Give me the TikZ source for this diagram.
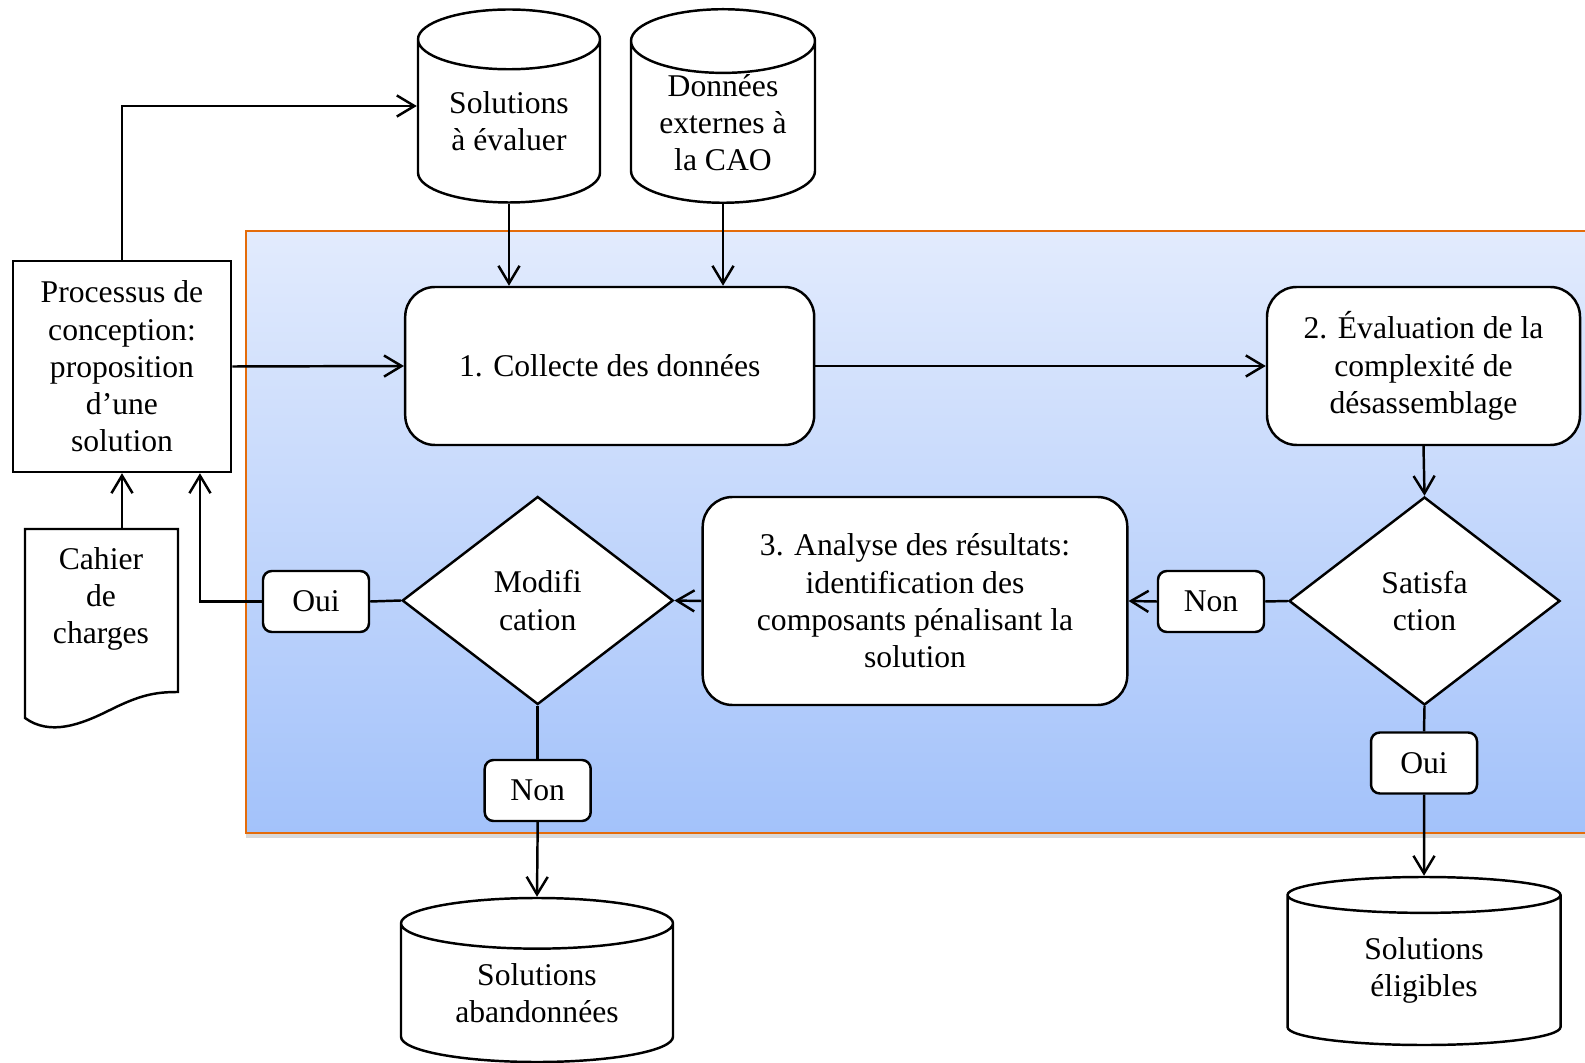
\documentclass[tikz,border=0pt]{standalone}
\usepackage{fontspec}
\setmainfont{Liberation Serif}
\usetikzlibrary{shapes.geometric,arrows.meta,shadows}
\definecolor{panhaut}{RGB}{226,235,253}
\definecolor{panbas}{RGB}{163,194,250}
\definecolor{cadre}{RGB}{228,108,10}
\tikzset{
  trait/.style={line width=0.7pt},
  fleche/.style={trait,-{Straight Barb[length=5pt,width=6pt]}},
  etape/.style={trait,draw,fill=white,rounded corners=8.5pt,align=center,inner sep=0pt},
  choix/.style={trait,draw,fill=white,diamond,align=center,inner sep=0pt,minimum width=2.71cm,minimum height=2.08cm},
  reponse/.style={trait,draw,fill=white,rounded corners=2.5pt,inner sep=0pt,minimum width=1.06cm,minimum height=0.61cm},
  base/.style={trait,draw,fill=white,cylinder,shape border rotate=90,align=center,inner sep=0pt,anchor=shape center}
}
\begin{document}
\begin{tikzpicture}[font=\fontsize{9}{10.6}\selectfont]
\useasboundingbox (0,0) rectangle (15.85,-10.63);
\clip (0,0) rectangle (15.85,-10.63);
\path[draw=cadre,line width=0.7pt,top color=panhaut,bottom color=panbas,
  drop shadow={opacity=0.3,shadow xshift=0pt,shadow yshift=-0.05cm}] (2.46,-2.31) rectangle (16.3,-8.33);

\node[base,minimum width=1.82cm,minimum height=1.93cm,aspect=0.5] (soleval) at (5.09,-1.06) {Solutions\\à évaluer};
\node[base,minimum width=1.84cm,minimum height=1.93cm,aspect=0.5] (externes) at (7.23,-1.06) {Données\\externes à\\la CAO};
\node[etape,minimum width=4.09cm,minimum height=1.58cm] (collecte) at (6.097,-3.66) {1. Collecte des données};
\node[etape,minimum width=3.13cm,minimum height=1.58cm] (evaluation) at (14.235,-3.66) {2. Évaluation de la\\complexité de\\désassemblage};
\node[trait,draw,fill=white,align=center,inner sep=0pt,minimum width=2.185cm,minimum height=2.11cm] (proc) at (1.22,-3.665) {Processus de\\conception:\\proposition\\d’une\\solution};

\draw[trait,fill=white] (0.25,-5.29) -- (1.78,-5.29) -- (1.78,-6.92) .. controls (1.55,-6.92) and (1.4,-6.95) .. (1.1,-7.1) .. controls (0.8,-7.25) and (0.5,-7.36) .. (0.25,-7.18) -- cycle;
\node[align=center] (cahier) at (1.01,-5.99) {Cahier\\de\\charges};
\coordinate (cahierhaut) at (1.22,-5.29);

\node[choix] (satis) at (14.245,-6.01) {Satisfa\\ction};
\node[reponse] (nonD) at (12.11,-6.015) {Non};
\node[etape,minimum width=4.246cm,minimum height=2.08cm] (analyse) at (9.15,-6.01) {3. Analyse des résultats:\\identification des\\composants pénalisant la\\solution};
\node[choix] (modif) at (5.377,-6.005) {Modifi\\cation};
\node[reponse] (ouiG) at (3.16,-6.015) {Oui};
\node[reponse] (nonB) at (5.377,-7.905) {Non};
\node[reponse] (ouiD) at (14.24,-7.63) {Oui};

\node[base,minimum width=2.72cm,minimum height=1.64cm,aspect=0.31] (aband) at (5.37,-9.8) {Solutions\\abandonnées};
\node[base,minimum width=2.73cm,minimum height=1.68cm,aspect=0.30] (eligibles) at (14.24,-9.61) {Solutions\\éligibles};

\draw[fleche] (proc.north) |- (soleval.shape center -| soleval.west);
\draw[fleche] (soleval.south) -- (soleval.south |- collecte.north);
\draw[fleche] (externes.south) -- (externes.south |- collecte.north);
\draw[fleche] (proc.east) -- (collecte.west);
\draw[fleche] (collecte.east) -- (evaluation.west);
\draw[fleche] (evaluation.south) -- (satis.north);
\draw[trait] (satis.west) -- (nonD.east);
\draw[fleche] (nonD.west) -- (analyse.east);
\draw[fleche] (analyse.west) -- (modif.east);
\draw[trait] (modif.west) -- (ouiG.east);
\draw[fleche] (ouiG.west) -| ([xshift=-0.325cm]proc.south east);
\draw[fleche] (cahierhaut) -- (proc.south);
\draw[trait] (modif.south) -- (nonB.north);
\draw[fleche] (nonB.south) -- (aband.north);
\draw[trait] (satis.south) -- (ouiD.north);
\draw[fleche] (ouiD.south) -- (eligibles.north);
\end{tikzpicture}
\end{document}
